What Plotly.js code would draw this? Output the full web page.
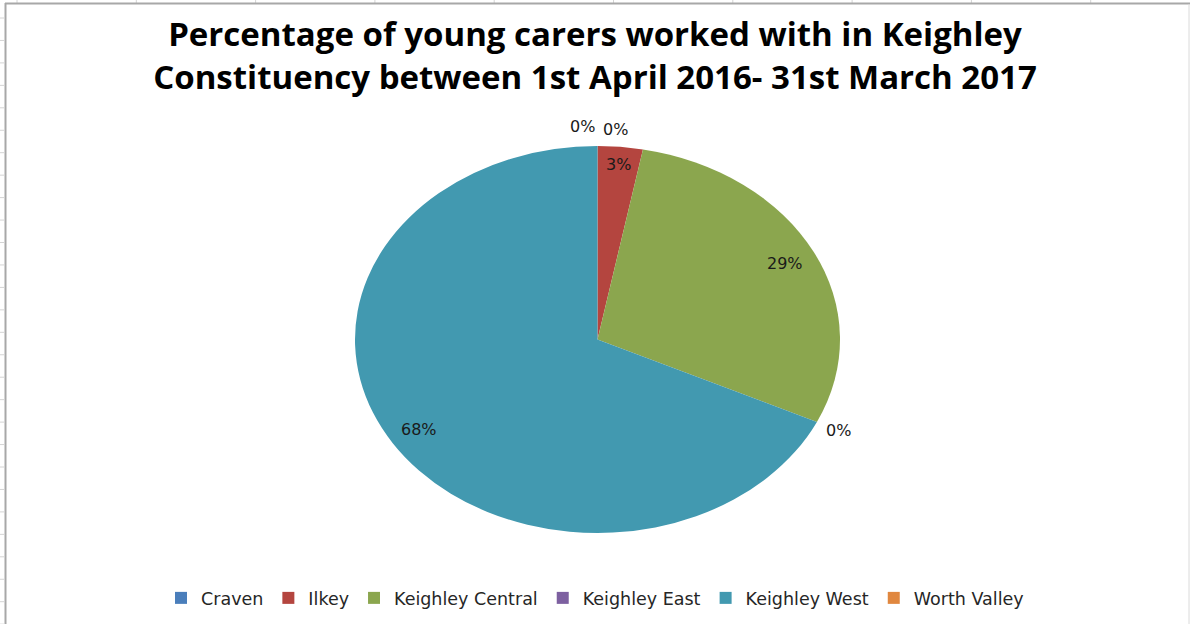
<!DOCTYPE html>
<html>
<head>
<meta charset="utf-8">
<script src="https://cdn.plot.ly/plotly-3.0.1.min.js"></script>
<style>html,body{margin:0;padding:0;background:#fff}</style>
</head>
<body>
<div id="chart" style="width:1190px;height:624px"></div>
<script>
// ---- data ----
const categories = ['Craven', 'Ilkey', 'Keighley Central', 'Keighley East', 'Keighley West', 'Worth Valley'];
const values = [0, 3, 29, 0, 68, 0];
const chartTitle = 'Percentage of young carers worked with in Keighley<br>Constituency between 1st April 2016- 31st March 2017';

// ---- styles ----
const sliceColors = ['#4A7EBB', '#B4453F', '#8BA64E', '#7D60A0', '#4299B0', '#E0873F'];
const W = 1190, H = 624;
const cx = 597.5, cy = 339.5, rx = 242.5, ry = 193.5;
const squash = ry / rx;

const total = values.reduce((a, b) => a + b, 0);

// labels placed from the data (angles from cumulative values)
const annotations = [];
let cum = 0;
values.forEach((v, i) => {
  const frac = v / total;
  const mid = (cum + v / 2) / total * 2 * Math.PI;
  cum += v;
  const inside = v > 0;
  const r = inside ? (frac < 0.1 ? 0.91 : 0.87) : 1.1;
  const px = cx + rx * r * Math.sin(mid);
  const py = cy - ry * r * Math.cos(mid);
  let xshift = 0, yshift = 0;
  if (!inside && Math.abs(Math.cos(mid)) > 0.99) {
    // zero slices at 12 o'clock: first one to the right, last one to the left
    xshift = (i === 0) ? 18 : -15;
    yshift = (i === 0) ? -3 : 0;
  }
  annotations.push({
    text: Math.round(frac * 100) + '%',
    xref: 'paper', yref: 'paper',
    x: px / W, y: 1 - py / H,
    xanchor: 'center', yanchor: 'middle',
    xshift: xshift, yshift: yshift,
    showarrow: false,
    font: {family: 'DejaVu Sans', size: 16, color: '#1a1a1a'}
  });
});

// frame + spreadsheet grid decoration
const shapes = [];
for (let k = 0; k < 10; k++) {
  const gx = 17 + 119.3 * k;
  shapes.push({type: 'line', xref: 'paper', yref: 'paper', x0: gx / W, x1: gx / W, y0: 1, y1: 1 - 3 / H,
    line: {color: '#D4D4D4', width: 1}});
}
for (let k = 0; k < 28; k++) {
  const gy = 18 + 22.45 * k;
  shapes.push({type: 'line', xref: 'paper', yref: 'paper', x0: 0, x1: 4 / W, y0: 1 - gy / H, y1: 1 - gy / H,
    line: {color: '#D4D4D4', width: 1}});
}
shapes.push({type: 'line', xref: 'paper', yref: 'paper', x0: 5 / W, x1: 1, y0: 1 - 3.5 / H, y1: 1 - 3.5 / H,
  line: {color: '#A8A8A8', width: 2}});
shapes.push({type: 'line', xref: 'paper', yref: 'paper', x0: 5.5 / W, x1: 5.5 / W, y0: 1 - 3 / H, y1: 0,
  line: {color: '#A8A8A8', width: 2}});
shapes.push({type: 'line', xref: 'paper', yref: 'paper', x0: 1189 / W, x1: 1189 / W, y0: 1 - 4 / H, y1: 0,
  line: {color: '#DADADA', width: 1}});

const trace = {
  type: 'pie',
  labels: categories,
  values: values,
  sort: false,
  direction: 'clockwise',
  rotation: 0,
  textinfo: 'none',
  hoverinfo: 'label+percent',
  marker: {colors: sliceColors, line: {width: 0}},
  domain: {x: [(cx - rx) / W, (cx + rx) / W], y: [1 - (cy + rx) / H, 1 - (cy - rx) / H]}
};

const layout = {
  width: W, height: H,
  margin: {l: 0, r: 0, t: 0, b: 0},
  paper_bgcolor: '#ffffff',
  title: {
    text: chartTitle,
    x: 0.5, xanchor: 'center',
    y: 1 - 46 / H, yanchor: 'middle', yref: 'container',
    font: {family: 'Open Sans', size: 33, color: '#000', weight: 'bold'}
  },
  showlegend: true,
  legend: {
    orientation: 'h',
    x: 0.5, xanchor: 'center',
    y: 1 - 598 / H, yanchor: 'middle',
    font: {family: 'DejaVu Sans', size: 17.5, color: '#262626'},
    traceorder: 'normal'
  },
  annotations: annotations,
  shapes: shapes
};

Plotly.newPlot('chart', [trace], layout, {displayModeBar: false, staticPlot: true}).then(function () {
  // Excel draws this pie stretched wider than tall: squash the pie vertically around its centre
  const layer = document.querySelector('#chart .pielayer');
  if (layer) {
    layer.setAttribute('transform', 'translate(0,' + (cy * (1 - squash)) + ') scale(1,' + squash + ')');
  }
});
</script>
</body>
</html>
